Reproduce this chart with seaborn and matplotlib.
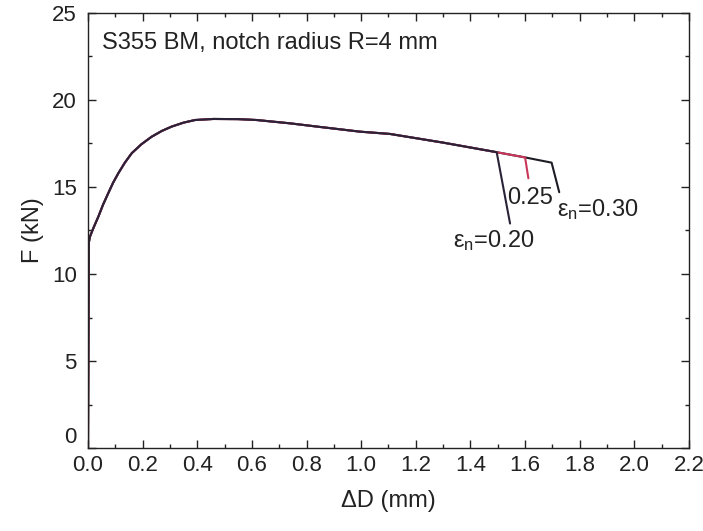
import matplotlib
matplotlib.use("Agg")
import matplotlib.pyplot as plt
import seaborn as sns
import pandas as pd
from matplotlib.ticker import MultipleLocator

sns.set_theme(style="ticks")
plt.rcParams['font.family'] = ['Liberation Sans', 'DejaVu Sans']
plt.rcParams['mathtext.fontset'] = 'custom'
plt.rcParams['mathtext.rm'] = 'Liberation Sans'
plt.rcParams['mathtext.it'] = 'Liberation Sans'

# common part of the force-displacement curve
x_common = [0.0, 0.003, 0.007, 0.02, 0.038, 0.055, 0.074, 0.092, 0.111, 0.135, 0.160,
            0.195, 0.233, 0.27, 0.306, 0.35, 0.392, 0.459, 0.55, 0.617, 0.739,
            0.85, 0.996, 1.105, 1.30, 1.496]
F_common = [0.0, 11.8, 12.14, 12.65, 13.3, 13.98, 14.64, 15.25, 15.79, 16.4, 16.94,
            17.45, 17.89, 18.22, 18.47, 18.7, 18.85, 18.91, 18.9, 18.85, 18.66,
            18.45, 18.18, 18.05, 17.55, 17.0]

# branch endings for each critical strain
x_end_020 = [1.545]
F_end_020 = [12.9]
x_end_025 = [1.60, 1.612]
F_end_025 = [16.7, 15.5]
x_end_030 = [1.60, 1.697, 1.725]
F_end_030 = [16.7, 16.4, 14.7]

series_names = ["0.30", "0.25", "0.20"]
series_colors = {"0.30": "#1c1c24", "0.25": "#c8365a", "0.20": "#2a2238"}

rows = []
ends = {"0.20": (x_end_020, F_end_020), "0.25": (x_end_025, F_end_025),
        "0.30": (x_end_030, F_end_030)}
for name in series_names:
    xe, fe = ends[name]
    xs = x_common + xe
    fs = F_common + fe
    for i, (a, b) in enumerate(zip(xs, fs)):
        rows.append({"dD": a, "F": b, "eps": name, "order": i})
df = pd.DataFrame(rows)

fig = plt.figure(figsize=(7.03, 5.31), dpi=100)
ax = fig.add_axes([88/703, 1-448/531, (689-88)/703, (448-13)/531])

sns.lineplot(data=df, x="dD", y="F", hue="eps", hue_order=series_names,
             palette=series_colors, sort=False, estimator=None, units="eps",
             linewidth=1.5, legend=False, ax=ax)
for ln in ax.get_lines():
    ln.set_solid_joinstyle('round')

ax.set_xlim(0, 2.2)
ax.set_ylim(0, 25)
ax.xaxis.set_major_locator(MultipleLocator(0.2))
ax.xaxis.set_minor_locator(MultipleLocator(0.1))
ax.yaxis.set_major_locator(MultipleLocator(5))
ax.yaxis.set_minor_locator(MultipleLocator(2.5))
ax.tick_params(which='both', direction='in', top=True, right=True,
               colors='#222222', labelsize=16, width=1.0)
ax.tick_params(which='major', length=6)
ax.tick_params(which='minor', length=3)
ax.tick_params(axis='x', which='major', pad=5)
ax.tick_params(axis='y', which='major', pad=8)
for s in ax.spines.values():
    s.set_color('#222222')
    s.set_linewidth(1.0)
ax.set_xticklabels([f"{v:.1f}" for v in ax.get_xticks()])
fig.canvas.draw()
ylabs = ax.get_yticklabels()
for lab in ylabs:
    if lab.get_text() == "0":
        lab.set_verticalalignment('bottom')

ax.set_xlabel("ΔD (mm)", fontsize=17, color='#222222', labelpad=10)
ax.set_ylabel("F (kN)", fontsize=17, color='#222222', labelpad=6)

ax.text(0.05, 23.3, "S355 BM, notch radius R=4 mm", fontsize=17, color='#222222',
        va='center', ha='left')
ax.text(1.336, 11.9, r"$\mathregular{\varepsilon_n}$=0.20", fontsize=17,
        color='#222222', va='center', ha='left')
ax.text(1.534, 14.37, "0.25", fontsize=17, color='#222222', va='center', ha='left')
ax.text(1.717, 13.7, r"$\mathregular{\varepsilon_n}$=0.30", fontsize=17,
        color='#222222', va='center', ha='left')

fig.savefig("out.png", dpi=100)
